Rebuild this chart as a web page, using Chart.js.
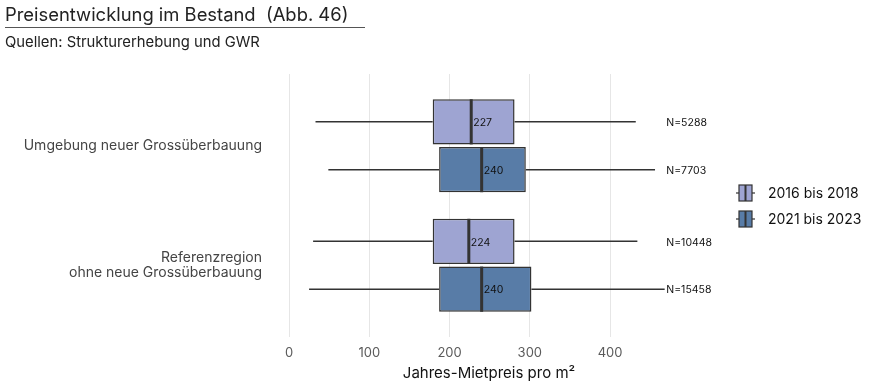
<!DOCTYPE html>
<html>
<head>
<meta charset="utf-8">
<script src="https://cdn.jsdelivr.net/npm/chart.js@4.4.1/dist/chart.umd.min.js"></script>
<style>
    body { margin: 0; background: #fff; font-family: Inter, "Noto Sans", sans-serif; }
    #wrap { position: relative; width: 873px; height: 386px; }
    canvas { position: absolute; left: 0; top: 0; }
    #titel { position: absolute; left: 5px; top: 3px; width: 360px; white-space: nowrap; font-size: 18.4px; color: #222; border-bottom: 1px solid #555; padding-bottom: 2px; }
    #quelle { position: absolute; left: 5px; top: 33px; white-space: nowrap; font-size: 14.8px; color: #222; }
</style>
</head>
<body>
<div id="wrap">
    <canvas id="chartPreise" width="873" height="386"></canvas>
    <div id="titel">Preisentwicklung im Bestand&nbsp; (Abb. 46)</div>
    <div id="quelle">Quellen: Strukturerhebung und GWR</div>
</div>
<script>
// ===== Daten =====
const kategorien = ['Umgebung neuer Grossüberbauung', ['Referenzregion', 'ohne neue Grossüberbauung']];
const perioden = ['2016 bis 2018', '2021 bis 2023'];
const farben = ['#9ea4d2', '#587ca7'];

// Boxplot-Kennzahlen je Periode (Reihenfolge wie kategorien)
const min2016 = [33, 30];
const q1_2016 = [179, 179];
const median2016 = [227, 224];
const q3_2016 = [281, 281];
const max2016 = [432, 434];
const n2016 = [5288, 10448];

const min2021 = [49, 25];
const q1_2021 = [187, 187];
const median2021 = [240, 240];
const q3_2021 = [295, 302];
const max2021 = [456, 468];
const n2021 = [7703, 15458];

const xTicks = [0, 100, 200, 300, 400];
const nLabelX = 470;

const serien = [
    { min: min2016, q1: q1_2016, median: median2016, q3: q3_2016, max: max2016, n: n2016 },
    { min: min2021, q1: q1_2021, median: median2021, q3: q3_2021, max: max2021, n: n2021 }
];

const linie = '#333333';

// Whisker, Median, Beschriftungen
const boxplotPlugin = {
    id: 'boxplot',
    beforeDatasetsDraw(chart) {
        const ctx = chart.ctx;
        const xs = chart.scales.x;
        serien.forEach((s, d) => {
            const meta = chart.getDatasetMeta(d);
            meta.data.forEach((bar, i) => {
                ctx.save();
                ctx.strokeStyle = linie;
                ctx.lineWidth = 1.5;
                ctx.beginPath();
                ctx.moveTo(xs.getPixelForValue(s.min[i]), bar.y);
                ctx.lineTo(xs.getPixelForValue(s.q1[i]), bar.y);
                ctx.moveTo(xs.getPixelForValue(s.q3[i]), bar.y);
                ctx.lineTo(xs.getPixelForValue(s.max[i]), bar.y);
                ctx.stroke();
                ctx.restore();
            });
        });
    },
    afterDatasetsDraw(chart) {
        const ctx = chart.ctx;
        const xs = chart.scales.x;
        serien.forEach((s, d) => {
            const meta = chart.getDatasetMeta(d);
            meta.data.forEach((bar, i) => {
                const xm = xs.getPixelForValue(s.median[i]);
                const h = bar.height;
                ctx.save();
                ctx.strokeStyle = linie;
                ctx.lineWidth = 3;
                ctx.beginPath();
                ctx.moveTo(xm, bar.y - h / 2);
                ctx.lineTo(xm, bar.y + h / 2);
                ctx.stroke();

                ctx.fillStyle = '#111';
                ctx.font = '10.5px Inter, "Noto Sans", sans-serif';
                ctx.textBaseline = 'middle';
                ctx.textAlign = 'left';
                ctx.fillText(String(s.median[i]), xm + 2, bar.y + 1);
                ctx.fillText('N=' + s.n[i], xs.getPixelForValue(nLabelX), bar.y + 1);
                ctx.restore();
            });
        });
    },
    afterDraw(chart) {
        const ctx = chart.ctx;
        const cx = 745;
        const zeilen = [193, 219];
        perioden.forEach((p, k) => {
            const y = zeilen[k];
            ctx.save();
            ctx.strokeStyle = linie;
            ctx.lineWidth = 1.2;
            ctx.beginPath();
            ctx.moveTo(cx - 9, y);
            ctx.lineTo(cx + 10, y);
            ctx.stroke();
            ctx.fillStyle = farben[k];
            ctx.fillRect(cx - 6, y - 8, 13, 16);
            ctx.strokeRect(cx - 6, y - 8, 13, 16);
            ctx.lineWidth = 2;
            ctx.beginPath();
            ctx.moveTo(cx + 0.5, y - 8);
            ctx.lineTo(cx + 0.5, y + 8);
            ctx.stroke();
            ctx.fillStyle = '#111';
            ctx.font = '14px Inter, "Noto Sans", sans-serif';
            ctx.textBaseline = 'middle';
            ctx.fillText(p, 768, y + 1);
            ctx.restore();
        });
    }
};

document.addEventListener('DOMContentLoaded', function() {
    const ctx = document.getElementById('chartPreise');
    new Chart(ctx, {
        type: 'bar',
        data: {
            datasets: serien.map((s, d) => ({
                label: perioden[d],
                data: kategorien.map((k, i) => ({ x: [s.q1[i], s.q3[i]], y: i + 1 })),
                backgroundColor: farben[d],
                borderColor: linie,
                borderWidth: 1.5,
                borderSkipped: false,
                categoryPercentage: 0.8,
                barPercentage: 0.945
            }))
        },
        options: {
            responsive: false,
            animation: false,
            indexAxis: 'y',
            layout: { padding: { top: 74, left: 0, right: 165, bottom: 0 } },
            plugins: {
                legend: { display: false },
                tooltip: { enabled: false }
            },
            scales: {
                x: {
                    type: 'linear',
                    min: -23.7,
                    max: 522,
                    afterBuildTicks: function(scale) {
                        scale.ticks = xTicks.map(v => ({ value: v }));
                    },
                    afterFit: function(scale) { scale.height = 49; },
                    grid: { color: '#e6e6e6', lineWidth: 1, drawTicks: false },
                    border: { display: false },
                    ticks: { color: '#5a5a5a', font: { size: 13, family: 'Inter' }, padding: 8 },
                    title: {
                        display: true,
                        text: 'Jahres-Mietpreis pro m²',
                        color: '#111',
                        font: { size: 15, family: 'Inter' },
                        padding: { top: 0, bottom: 4 }
                    }
                },
                y: {
                    type: 'linear',
                    min: 0.4,
                    max: 2.6,
                    reverse: true,
                    offset: false,
                    afterBuildTicks: function(scale) {
                        scale.ticks = kategorien.map((k, i) => ({ value: i + 1 }));
                    },
                    afterFit: function(scale) { scale.width = 270; },
                    grid: { display: false, drawTicks: false, offset: false },
                    border: { display: false },
                    ticks: {
                        color: '#444',
                        font: { size: 14, family: 'Inter', lineHeight: 1.05 },
                        padding: 8,
                        callback: function(value) { return kategorien[value - 1]; }
                    }
                }
            }
        },
        plugins: [boxplotPlugin]
    });
});
</script>
</body>
</html>
